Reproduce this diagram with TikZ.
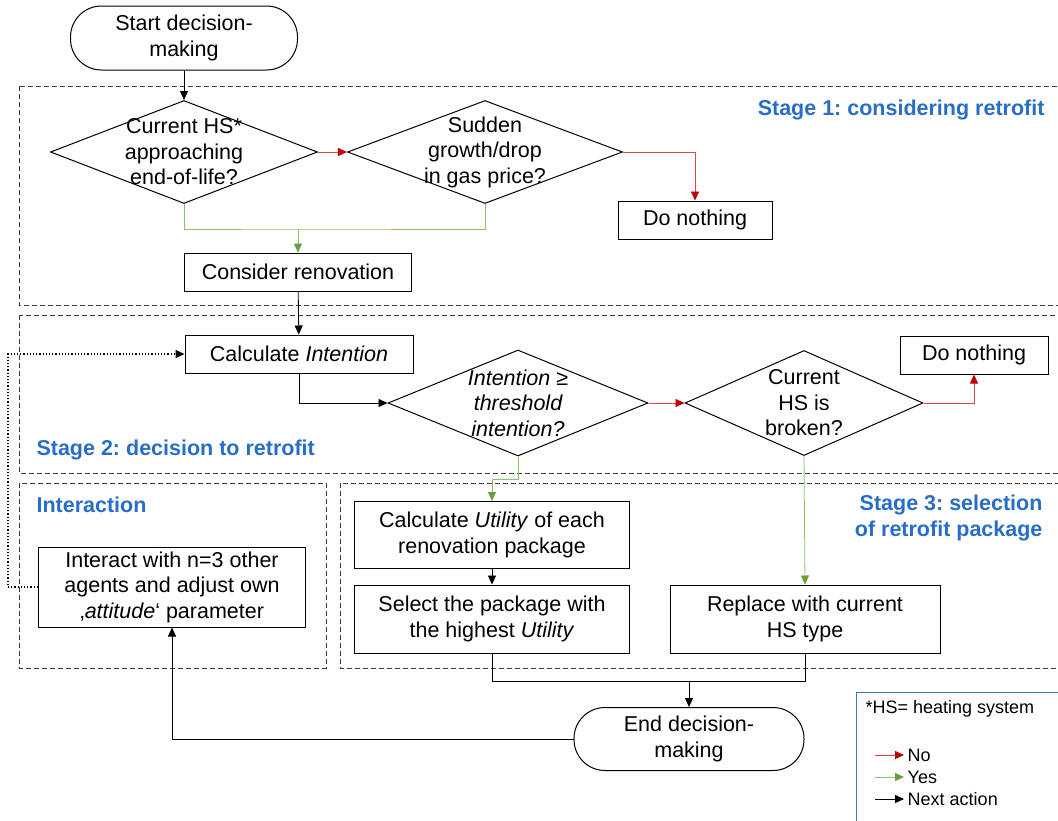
\documentclass[tikz,border=0pt]{standalone}
\usepackage{fontspec}
\setmainfont{Liberation Sans}
\usetikzlibrary{shapes.geometric,arrows.meta}
\frenchspacing

\definecolor{stageblue}{RGB}{40,110,200}
\definecolor{legendblue}{RGB}{70,115,200}
\definecolor{noline}{RGB}{225,70,70}
\definecolor{notip}{RGB}{192,0,0}
\definecolor{yesline}{RGB}{140,195,105}
\definecolor{yestip}{RGB}{100,160,60}
\definecolor{dashgray}{RGB}{60,60,60}

\begin{document}
\begin{tikzpicture}[x=1pt, y=-1pt,
    every node/.style={font=\fontsize{21.5}{25.5}\selectfont},
    box/.style={draw, line width=1pt, align=center, minimum height=38pt, inner sep=2pt},
    terminal/.style={draw, line width=1pt, rounded corners=31pt, align=center, minimum width=227pt, minimum height=64pt},
    decision/.style={draw, diamond, aspect=2.5, line width=1pt, align=center, inner sep=-8pt},
    stagebox/.style={draw=dashgray, dash pattern=on 5pt off 3pt, line width=1pt},
    stagelabel/.style={text=stageblue, font=\fontsize{21.5}{25.5}\selectfont\bfseries, align=right},
    legendtext/.style={text=black, font=\fontsize{18}{22}\selectfont},
    nxt/.style={line width=0.8pt, -{Triangle[length=9pt,width=8pt]}},
    no/.style={noline, line width=0.8pt, -{Triangle[length=9pt,width=8pt,color=notip]}},
    yes/.style={yesline, line width=0.8pt, -{Triangle[length=9pt,width=8pt,color=yestip]}}]
    \useasboundingbox (0,0) rectangle (1058,820);

    % Stage frames
    \draw[stagebox] (19,86) rectangle (1075,305);
    \draw[stagebox] (19,315) rectangle (1075,473);
    \draw[stagebox] (19,483) rectangle (326,668);
    \draw[stagebox] (340,483) rectangle (1075,668);

    \node[stagelabel, anchor=east] (stage1) at (1048,110) {Stage 1: considering retrofit};
    \node[stagelabel, anchor=west] (stage2) at (33,450) {Stage 2: decision to retrofit};
    \node[stagelabel, anchor=west] (interlabel) at (33,505) {Interaction};
    \node[stagelabel, anchor=east] (stage3) at (1046,518) {Stage 3: selection\\of retrofit package};

    % Stage 1
    \node[terminal] (start) at (184,38) {Start decision-\\making};
    \node[decision, minimum width=267pt, minimum height=103pt] (d1) at (184,152) {Current HS*\\approaching\\end-of-life?};
    \node[decision, minimum width=275pt, minimum height=103pt] (d2) at (485,152) {Sudden\\growth/drop\\in gas price?};
    \node[box, minimum width=154pt] (nothing1) at (695,220) {Do nothing};
    \node[box, minimum width=227pt] (consider) at (298,272) {Consider renovation};
    \coordinate (j1) at (298,229);

    \draw[nxt] (start) -- (d1);
    \draw[no] (d1) -- (d2);
    \draw[no] (d2.east) -| (nothing1.north);
    \draw[yesline, line width=0.8pt] (d1.south) |- (j1) -| (d2.south);
    \draw[yes] (j1) -- (consider);

    % Stage 2
    \node[box, minimum width=228pt] (calcint) at (299,354) {Calculate \textit{Intention}};
    \node[decision, minimum width=260pt, minimum height=106pt, font=\fontsize{21.5}{25.5}\selectfont\itshape] (d3) at (518,403) {Intention ≥\\threshold\\intention?};
    \node[decision, minimum width=238pt, minimum height=105pt] (d4) at (804,403) {Current\\HS is\\broken?};
    \node[box, minimum width=148pt] (nothing2) at (974,355) {Do nothing};

    \draw[nxt] (consider) -- (calcint);
    \draw[nxt] (calcint.south) |- (d3.west);
    \draw[no] (d3) -- (d4);
    \draw[no] (d4.east) -| (nothing2.south);

    % Stage 3
    \node[box, minimum width=275pt, minimum height=67pt] (calcutil) at (492,535) {Calculate \textit{Utility} of each\\renovation package};
    \node[box, minimum width=275pt, minimum height=68pt] (select) at (492,619) {Select the package with\\the highest \textit{Utility}};
    \node[box, minimum width=270pt, minimum height=68pt] (replace) at (805,619) {Replace with current\\HS type};

    \draw[yes] (d3.south) -- ++(0,23) -| (calcutil.north);
    \draw[nxt] (calcutil) -- (select);
    \draw[yes] (d4.south) -- (replace.north);

    % Interaction
    \node[box, minimum width=267pt, minimum height=80pt] (interact) at (172,587) {Interact with n=3 other\\agents and adjust own\\‚\textit{attitude}‘ parameter};
    \draw[dotted, line width=1.2pt, -{Triangle[length=9pt,width=8pt]}] (interact.west) -- ++(-30,0) |- (calcint.west);

    % End
    \node[terminal, minimum width=230pt, minimum height=63pt] (stop) at (689,739) {End decision-\\making};
    \coordinate (j3) at (689,681);
    \draw[line width=0.8pt] (select.south) |- (j3) -| (replace.south);
    \draw[nxt] (j3) -- (stop);
    \draw[nxt] (stop.west) -| (interact.south);

    % Legend
    \draw[legendblue, line width=1pt] (856,692) rectangle (1064,826);
    \node[legendtext, anchor=west] (hsnote) at (862,709) {*HS= heating system};
    \coordinate (lgno) at (875,755);
    \coordinate (lgyes) at (875,777);
    \coordinate (lgnext) at (875,799);
    \draw[no] (lgno) -- ++(29,0) node[legendtext, right] (lgnotext) {No};
    \draw[yes] (lgyes) -- ++(29,0) node[legendtext, right] (lgyestext) {Yes};
    \draw[nxt] (lgnext) -- ++(29,0) node[legendtext, right] (lgnexttext) {Next action};
\end{tikzpicture}
\end{document}
